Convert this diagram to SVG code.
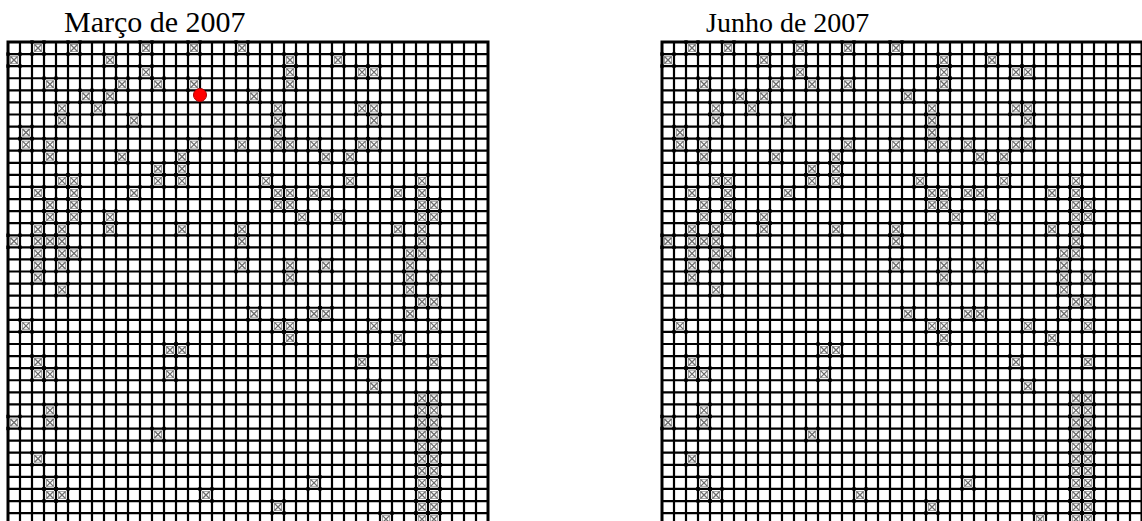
<svg xmlns="http://www.w3.org/2000/svg" xmlns:xlink="http://www.w3.org/1999/xlink" width="1142" height="521" viewBox="0 0 1142 521">
<style>
.title{font-family:"Liberation Serif","Times New Roman",serif;fill:#000}
.gl{fill:none;stroke:#000;stroke-width:2.2}
.bd{fill:none;stroke:#000;stroke-width:3}
.mx{fill:none;stroke:#6a6a6a;stroke-width:1.3}
.mb{fill:none;stroke:#a8a8a8;stroke-width:1}
.mc{fill:#000}
</style>
<defs>
<g id="mk">
<rect class="mb" x="2.5" y="2.5" width="7" height="7"/>
<path class="mx" d="M2.5 2.5L9.5 9.5M9.5 2.5L2.5 9.5"/>
<rect class="mc" x="-1.7" y="-1.7" width="3.4" height="3.4"/>
<rect class="mc" x="10.3" y="-1.7" width="3.4" height="3.4"/>
<rect class="mc" x="-1.7" y="10.3" width="3.4" height="3.4"/>
<rect class="mc" x="10.3" y="10.3" width="3.4" height="3.4"/>
</g>
<g id="grid">
<rect x="8" y="42" width="480" height="479" fill="#fff"/>
<path class="gl" d="M20 42V521M32 42V521M44 42V521M56 42V521M68 42V521M80 42V521M92 42V521M104 42V521M116 42V521M128 42V521M140 42V521M152 42V521M164 42V521M176 42V521M188 42V521M200 42V521M212 42V521M224 42V521M236 42V521M248 42V521M260 42V521M272 42V521M284 42V521M296 42V521M308 42V521M320 42V521M332 42V521M344 42V521M356 42V521M368 42V521M380 42V521M392 42V521M404 42V521M416 42V521M428 42V521M440 42V521M452 42V521M464 42V521M476 42V521"/>
<path class="gl" d="M8 54.08H488M8 66.16H488M8 78.24H488M8 90.32H488M8 102.4H488M8 114.48H488M8 126.56H488M8 138.64H488M8 150.72H488M8 162.8H488M8 174.88H488M8 186.96H488M8 199.04H488M8 211.12H488M8 223.2H488M8 235.28H488M8 247.36H488M8 259.44H488M8 271.52H488M8 283.6H488M8 295.68H488M8 307.76H488M8 319.84H488M8 331.92H488M8 344H488M8 356.08H488M8 368.16H488M8 380.24H488M8 392.32H488M8 404.4H488M8 416.48H488M8 428.56H488M8 440.64H488M8 452.72H488M8 464.8H488M8 476.88H488M8 488.96H488M8 501.04H488M8 513.12H488"/>
<path class="bd" d="M8 521V42H488V521"/>
</g>
<g id="marks">
<g transform="translate(0,42)"><use href="#mk" x="32"/><use href="#mk" x="68"/><use href="#mk" x="140"/><use href="#mk" x="188"/><use href="#mk" x="236"/></g>
<g transform="translate(0,54.08)"><use href="#mk" x="8"/><use href="#mk" x="104"/><use href="#mk" x="284"/><use href="#mk" x="332"/></g>
<g transform="translate(0,66.16)"><use href="#mk" x="140"/><use href="#mk" x="284"/><use href="#mk" x="356"/><use href="#mk" x="368"/></g>
<g transform="translate(0,78.24)"><use href="#mk" x="44"/><use href="#mk" x="116"/><use href="#mk" x="152"/><use href="#mk" x="188"/><use href="#mk" x="284"/></g>
<g transform="translate(0,90.32)"><use href="#mk" x="80"/><use href="#mk" x="104"/><use href="#mk" x="248"/></g>
<g transform="translate(0,102.4)"><use href="#mk" x="56"/><use href="#mk" x="92"/><use href="#mk" x="272"/><use href="#mk" x="356"/><use href="#mk" x="368"/></g>
<g transform="translate(0,114.48)"><use href="#mk" x="56"/><use href="#mk" x="128"/><use href="#mk" x="272"/><use href="#mk" x="368"/></g>
<g transform="translate(0,126.56)"><use href="#mk" x="20"/><use href="#mk" x="272"/></g>
<g transform="translate(0,138.64)"><use href="#mk" x="20"/><use href="#mk" x="44"/><use href="#mk" x="188"/><use href="#mk" x="236"/><use href="#mk" x="272"/><use href="#mk" x="284"/><use href="#mk" x="308"/><use href="#mk" x="356"/><use href="#mk" x="368"/></g>
<g transform="translate(0,150.72)"><use href="#mk" x="44"/><use href="#mk" x="116"/><use href="#mk" x="176"/><use href="#mk" x="320"/><use href="#mk" x="344"/></g>
<g transform="translate(0,162.8)"><use href="#mk" x="152"/><use href="#mk" x="176"/></g>
<g transform="translate(0,174.88)"><use href="#mk" x="56"/><use href="#mk" x="68"/><use href="#mk" x="152"/><use href="#mk" x="176"/><use href="#mk" x="260"/><use href="#mk" x="344"/><use href="#mk" x="416"/></g>
<g transform="translate(0,186.96)"><use href="#mk" x="32"/><use href="#mk" x="68"/><use href="#mk" x="128"/><use href="#mk" x="272"/><use href="#mk" x="284"/><use href="#mk" x="308"/><use href="#mk" x="320"/><use href="#mk" x="392"/><use href="#mk" x="416"/></g>
<g transform="translate(0,199.04)"><use href="#mk" x="44"/><use href="#mk" x="68"/><use href="#mk" x="272"/><use href="#mk" x="284"/><use href="#mk" x="416"/><use href="#mk" x="428"/></g>
<g transform="translate(0,211.12)"><use href="#mk" x="44"/><use href="#mk" x="68"/><use href="#mk" x="104"/><use href="#mk" x="296"/><use href="#mk" x="332"/><use href="#mk" x="416"/><use href="#mk" x="428"/></g>
<g transform="translate(0,223.2)"><use href="#mk" x="32"/><use href="#mk" x="56"/><use href="#mk" x="104"/><use href="#mk" x="176"/><use href="#mk" x="236"/><use href="#mk" x="392"/><use href="#mk" x="416"/></g>
<g transform="translate(0,235.28)"><use href="#mk" x="8"/><use href="#mk" x="32"/><use href="#mk" x="44"/><use href="#mk" x="56"/><use href="#mk" x="236"/><use href="#mk" x="416"/></g>
<g transform="translate(0,247.36)"><use href="#mk" x="32"/><use href="#mk" x="56"/><use href="#mk" x="68"/><use href="#mk" x="404"/><use href="#mk" x="416"/></g>
<g transform="translate(0,259.44)"><use href="#mk" x="32"/><use href="#mk" x="56"/><use href="#mk" x="236"/><use href="#mk" x="284"/><use href="#mk" x="320"/><use href="#mk" x="404"/></g>
<g transform="translate(0,271.52)"><use href="#mk" x="32"/><use href="#mk" x="284"/><use href="#mk" x="404"/><use href="#mk" x="428"/></g>
<g transform="translate(0,283.6)"><use href="#mk" x="56"/><use href="#mk" x="404"/></g>
<g transform="translate(0,295.68)"><use href="#mk" x="416"/><use href="#mk" x="428"/></g>
<g transform="translate(0,307.76)"><use href="#mk" x="248"/><use href="#mk" x="308"/><use href="#mk" x="320"/><use href="#mk" x="404"/></g>
<g transform="translate(0,319.84)"><use href="#mk" x="20"/><use href="#mk" x="272"/><use href="#mk" x="284"/><use href="#mk" x="368"/><use href="#mk" x="428"/></g>
<g transform="translate(0,331.92)"><use href="#mk" x="284"/><use href="#mk" x="392"/></g>
<g transform="translate(0,344)"><use href="#mk" x="164"/><use href="#mk" x="176"/></g>
<g transform="translate(0,356.08)"><use href="#mk" x="32"/><use href="#mk" x="356"/><use href="#mk" x="428"/></g>
<g transform="translate(0,368.16)"><use href="#mk" x="32"/><use href="#mk" x="44"/><use href="#mk" x="164"/></g>
<g transform="translate(0,380.24)"><use href="#mk" x="368"/></g>
<g transform="translate(0,392.32)"><use href="#mk" x="416"/><use href="#mk" x="428"/></g>
<g transform="translate(0,404.4)"><use href="#mk" x="44"/><use href="#mk" x="416"/><use href="#mk" x="428"/></g>
<g transform="translate(0,416.48)"><use href="#mk" x="8"/><use href="#mk" x="44"/><use href="#mk" x="416"/><use href="#mk" x="428"/></g>
<g transform="translate(0,428.56)"><use href="#mk" x="152"/><use href="#mk" x="416"/><use href="#mk" x="428"/></g>
<g transform="translate(0,440.64)"><use href="#mk" x="416"/><use href="#mk" x="428"/></g>
<g transform="translate(0,452.72)"><use href="#mk" x="32"/><use href="#mk" x="416"/><use href="#mk" x="428"/></g>
<g transform="translate(0,464.8)"><use href="#mk" x="416"/><use href="#mk" x="428"/></g>
<g transform="translate(0,476.88)"><use href="#mk" x="44"/><use href="#mk" x="308"/><use href="#mk" x="416"/><use href="#mk" x="428"/></g>
<g transform="translate(0,488.96)"><use href="#mk" x="44"/><use href="#mk" x="56"/><use href="#mk" x="200"/><use href="#mk" x="416"/><use href="#mk" x="428"/></g>
<g transform="translate(0,501.04)"><use href="#mk" x="272"/><use href="#mk" x="416"/><use href="#mk" x="428"/></g>
<g transform="translate(0,513.12)"><use href="#mk" x="380"/><use href="#mk" x="416"/><use href="#mk" x="428"/></g>
</g>
</defs>
<rect width="1142" height="521" fill="#fff"/>
<g id="marco">
<text class="title" x="64" y="32" font-size="30">Março de 2007</text>
<use href="#grid"/>
<use href="#marks"/>
<circle cx="200" cy="95" r="6.5" fill="#f00" stroke="#a00" stroke-width="1"/>
</g>
<g id="junho">
<text class="title" x="706" y="32" font-size="28">Junho de 2007</text>
<use href="#grid" x="654"/>
<use href="#marks" x="654"/>
</g>
</svg>
